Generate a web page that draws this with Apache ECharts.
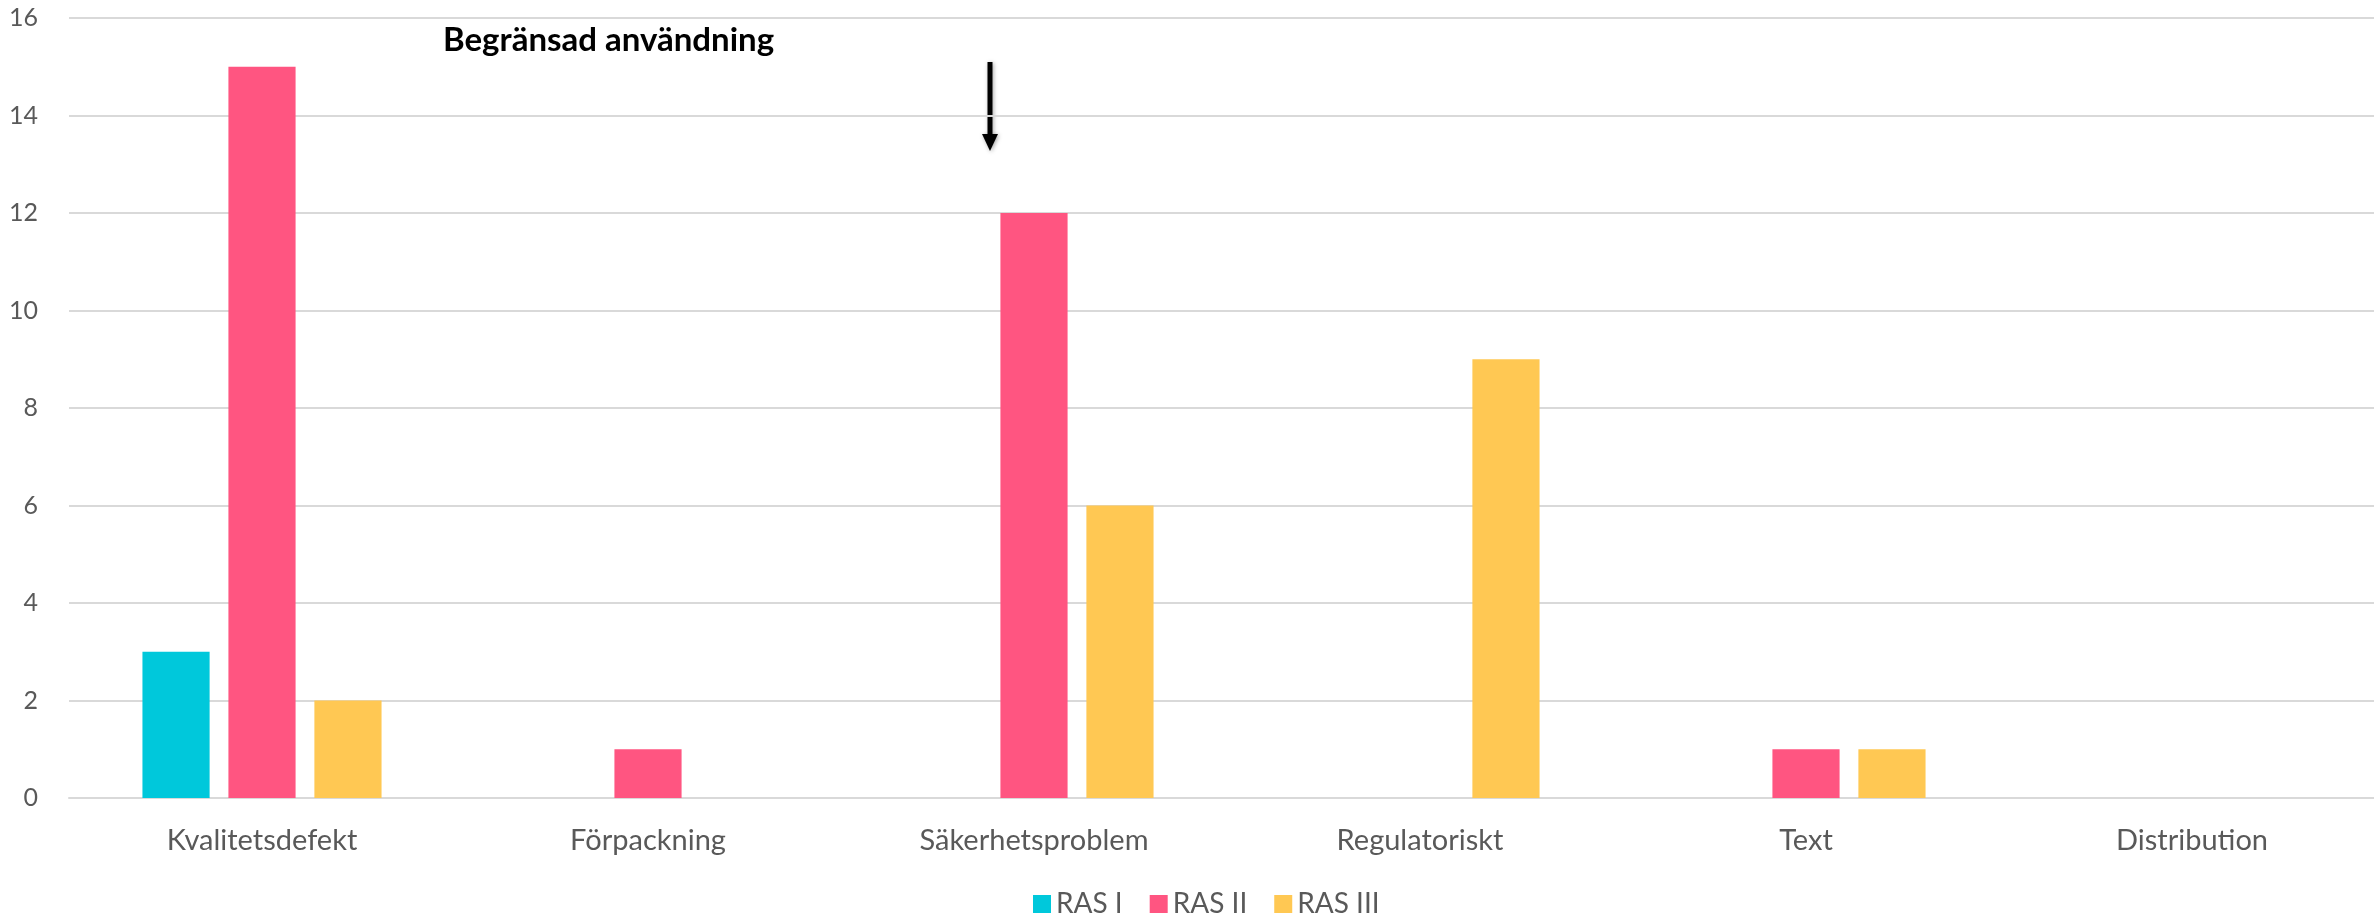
<!DOCTYPE html>
<html>
<head>
<meta charset="utf-8">
<script src="https://cdn.jsdelivr.net/npm/echarts@6/dist/echarts.min.js"></script>
<style>
  html, body { margin: 0; padding: 0; background: #ffffff; }
  #chart { width: 2374px; height: 915px; }
</style>
</head>
<body>
<div id="chart"></div>
<script>
const categories = ['Kvalitetsdefekt', 'Förpackning', 'Säkerhetsproblem', 'Regulatoriskt', 'Text', 'Distribution'];
const rasI = [3, 0, 0, 0, 0, 0];
const rasII = [15, 1, 12, 0, 1, 0];
const rasIII = [2, 0, 6, 9, 1, 0];
const seriesNames = ['RAS I', 'RAS II', 'RAS III'];
const annotationText = 'Begränsad användning';
const yTicks = { min: 0, max: 16, interval: 2 };

const colors = ['#00C8DB', '#FF5581', '#FFC853'];
const font = 'Lato, "Open Sans", sans-serif';

const chart = echarts.init(document.getElementById('chart'), null, { renderer: 'canvas' });

const option = {
  animation: false,
  backgroundColor: '#ffffff',
  color: colors,
  textStyle: { fontFamily: font },
  grid: { left: 69, right: -11, top: 18, bottom: 117, containLabel: false, outerBoundsMode: 'none' },
  legend: {
    data: seriesNames,
    top: 885,
    left: 1028,
    itemWidth: 18,
    itemHeight: 18,
    itemGap: 27,
    icon: 'rect',
    textStyle: { color: '#595959', fontSize: 28, fontFamily: font }
  },
  xAxis: {
    type: 'category',
    data: categories,
    axisTick: { show: false },
    axisLine: { lineStyle: { color: '#D9D9D9', width: 2 } },
    axisLabel: { color: '#595959', fontSize: 29, fontFamily: font, margin: 28 }
  },
  yAxis: {
    type: 'value',
    min: yTicks.min,
    max: yTicks.max,
    interval: yTicks.interval,
    axisLine: { show: false },
    axisTick: { show: false },
    splitLine: { lineStyle: { color: '#D9D9D9', width: 2 } },
    axisLabel: { color: '#595959', fontSize: 25, fontFamily: font, margin: 31 }
  },
  series: [
    { name: seriesNames[0], type: 'bar', data: rasI, barWidth: '17.4%', barGap: '28%' },
    { name: seriesNames[1], type: 'bar', data: rasII, barWidth: '17.4%', barGap: '28%' },
    { name: seriesNames[2], type: 'bar', data: rasIII, barWidth: '17.4%', barGap: '28%' }
  ],
  graphic: [
    {
      type: 'text',
      left: 443,
      top: 24,
      style: {
        text: annotationText,
        fill: '#000000',
        font: 'bold 33px ' + font
      }
    },
    {
      type: 'group',
      left: 982,
      top: 62,
      children: [
        {
          type: 'rect',
          shape: { x: 7.5, y: 0, width: 5, height: 76 },
          style: { fill: '#000000', shadowBlur: 4, shadowColor: 'rgba(0,0,0,0.35)', shadowOffsetX: 1, shadowOffsetY: 1 }
        },
        {
          type: 'polygon',
          shape: { points: [[2, 72], [18, 72], [10, 89]] },
          style: { fill: '#000000', shadowBlur: 4, shadowColor: 'rgba(0,0,0,0.35)', shadowOffsetX: 1, shadowOffsetY: 1 }
        }
      ]
    }
  ]
};

chart.setOption(option);
</script>
</body>
</html>
